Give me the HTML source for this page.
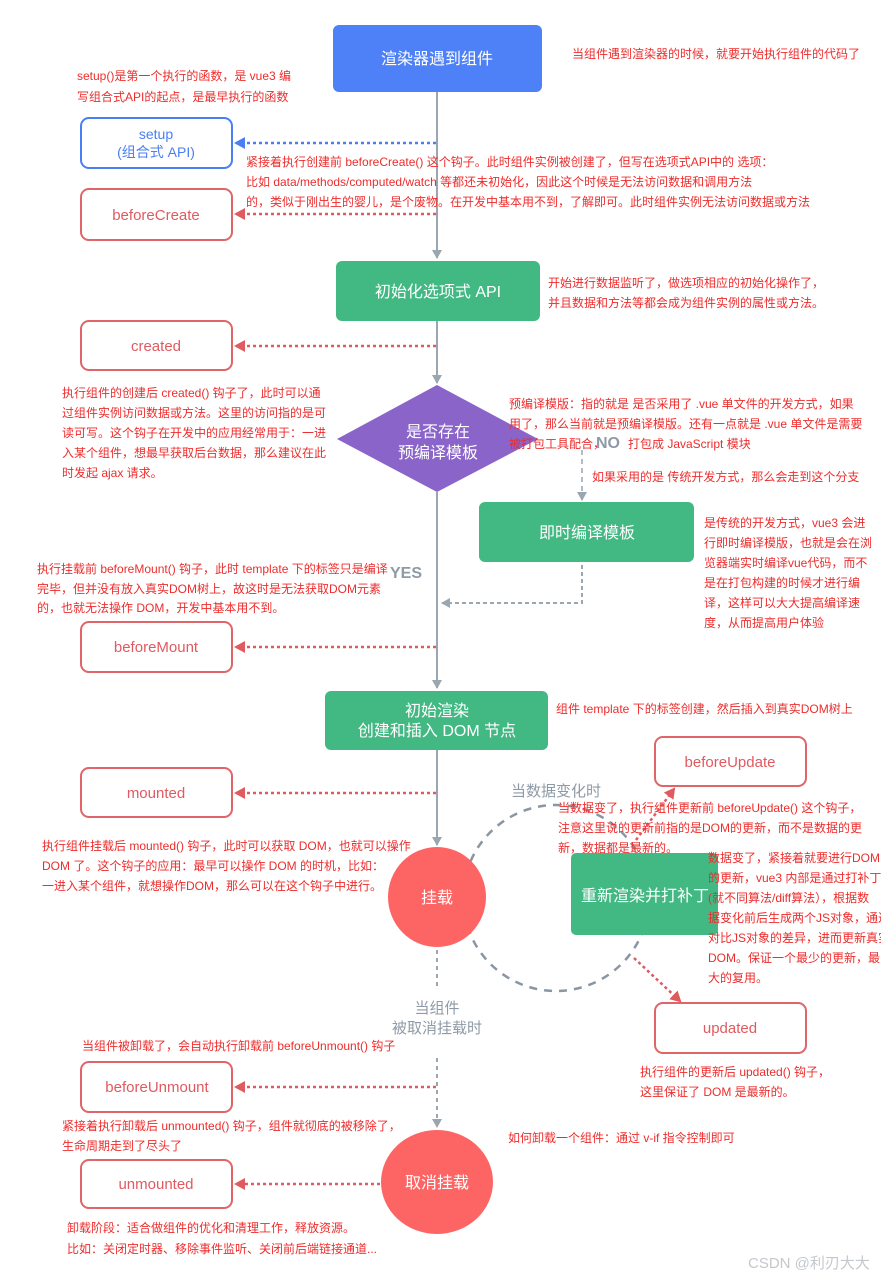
<!DOCTYPE html>
<html><head><meta charset="utf-8"><style>
body{margin:0;background:#fff;}
svg{display:block;font-family:"Liberation Sans","Noto Sans CJK SC",sans-serif;}
.r{fill:#ee2c2c;font-size:12px;}
.bl{fill:#fff;stroke:#e06468;stroke-width:2;}
.bt{fill:#e05a60;font-size:15px;text-anchor:middle;}
.w{fill:#fff;text-anchor:middle;font-size:16px;}
.g{fill:#8e9aa6;}
</style></head><body>
<svg width="881" height="1280" viewBox="0 0 881 1280">
<defs>
<marker id="ag" markerWidth="10" markerHeight="10" refX="8" refY="5" orient="auto" markerUnits="userSpaceOnUse"><path d="M0,0 L9,5 L0,10 Z" fill="#9aa6b0"/></marker>
<marker id="ar" markerWidth="12" markerHeight="12" refX="9" refY="6" orient="auto" markerUnits="userSpaceOnUse"><path d="M0,0 L11,6 L0,12 Z" fill="#e05a60"/></marker>
<marker id="ab" markerWidth="12" markerHeight="12" refX="9" refY="6" orient="auto" markerUnits="userSpaceOnUse"><path d="M0,0 L11,6 L0,12 Z" fill="#4a7ef5"/></marker>
</defs>
<!-- gray arc -->
<circle cx="556" cy="898" r="93" fill="none" stroke="#8a96a2" stroke-width="2.5" stroke-dasharray="8,7"/>
<!-- main line -->
<line x1="437" y1="92" x2="437" y2="258" stroke="#9aa6b0" stroke-width="2" marker-end="url(#ag)"/>
<line x1="437" y1="321" x2="437" y2="383" stroke="#9aa6b0" stroke-width="2" marker-end="url(#ag)"/>
<line x1="437" y1="492" x2="437" y2="688" stroke="#9aa6b0" stroke-width="2" marker-end="url(#ag)"/>
<line x1="437" y1="750" x2="437" y2="845" stroke="#9aa6b0" stroke-width="2" marker-end="url(#ag)"/>
<line x1="437" y1="950" x2="437" y2="990" stroke="#9aa6b0" stroke-width="2" stroke-dasharray="4,4"/>
<line x1="437" y1="1058" x2="437" y2="1127" stroke="#9aa6b0" stroke-width="2" stroke-dasharray="4,4" marker-end="url(#ag)"/>
<!-- NO branch -->
<line x1="582" y1="450" x2="582" y2="500" stroke="#9aa6b0" stroke-width="1.5" stroke-dasharray="5,4" marker-end="url(#ag)"/>
<polyline points="582,565 582,603 442,603" fill="none" stroke="#9aa6b0" stroke-width="2" stroke-dasharray="4,3" marker-end="url(#ag)"/>
<!-- dashed hook arrows -->
<line x1="436" y1="143" x2="236" y2="143" stroke="#4a7ef5" stroke-width="2.5" stroke-dasharray="3,3" marker-end="url(#ab)"/>
<g stroke="#e05a60" stroke-width="2.5" stroke-dasharray="3,3">
<line x1="436" y1="214" x2="236" y2="214" marker-end="url(#ar)"/>
<line x1="436" y1="346" x2="236" y2="346" marker-end="url(#ar)"/>
<line x1="436" y1="647" x2="236" y2="647" marker-end="url(#ar)"/>
<line x1="436" y1="793" x2="236" y2="793" marker-end="url(#ar)"/>
<line x1="436" y1="1087" x2="236" y2="1087" marker-end="url(#ar)"/>
<line x1="380" y1="1184" x2="236" y2="1184" marker-end="url(#ar)"/>
<line x1="636" y1="840" x2="674" y2="789" marker-end="url(#ar)"/>
<line x1="634" y1="958" x2="680" y2="1001" marker-end="url(#ar)"/>
</g>
<!-- shapes -->
<rect x="333" y="25" width="209" height="67" rx="6" fill="#4e80f7"/>
<text class="w" x="437" y="64">渲染器遇到组件</text>
<rect x="81" y="118" width="151" height="50" rx="8" fill="#fff" stroke="#4a7ef5" stroke-width="2"/>
<text x="156" y="139" fill="#4a7ef5" font-size="14" text-anchor="middle">setup</text>
<text x="156" y="157" fill="#4a7ef5" font-size="14" text-anchor="middle">(组合式 API)</text>
<rect class="bl" x="81" y="189" width="151" height="51" rx="8"/><text class="bt" x="156" y="220">beforeCreate</text>
<rect x="336" y="261" width="204" height="60" rx="6" fill="#42b883"/>
<text class="w" x="438" y="297">初始化选项式 API</text>
<rect class="bl" x="81" y="321" width="151" height="49" rx="8"/><text class="bt" x="156" y="351">created</text>
<polygon points="437,385 538,439 437,492 337,439" fill="#8a64c8"/>
<text class="w" x="438" y="437">是否存在</text><text class="w" x="438" y="458">预编译模板</text>
<rect x="479" y="502" width="215" height="60" rx="6" fill="#42b883"/>
<text class="w" x="587" y="538">即时编译模板</text>
<rect class="bl" x="81" y="622" width="151" height="50" rx="8"/><text class="bt" x="156" y="652">beforeMount</text>
<rect x="325" y="691" width="223" height="59" rx="6" fill="#42b883"/>
<text class="w" x="437" y="716" font-size="15">初始渲染</text><text class="w" x="437" y="736" font-size="15">创建和插入 DOM 节点</text>
<rect class="bl" x="655" y="737" width="151" height="49" rx="8"/><text class="bt" x="730" y="767">beforeUpdate</text>
<rect class="bl" x="81" y="768" width="151" height="49" rx="8"/><text class="bt" x="156" y="798">mounted</text>
<ellipse cx="437" cy="897" rx="49" ry="50" fill="#fd6565"/>
<text class="w" x="437" y="903">挂载</text>
<rect x="571" y="853" width="147" height="82" rx="5" fill="#42b883"/>
<text class="w" x="645" y="901" font-size="17">重新渲染并打补丁</text>
<rect class="bl" x="655" y="1003" width="151" height="50" rx="8"/><text class="bt" x="730" y="1033">updated</text>
<rect class="bl" x="81" y="1062" width="151" height="50" rx="8"/><text class="bt" x="157" y="1092">beforeUnmount</text>
<ellipse cx="437" cy="1182" rx="56" ry="52" fill="#fd6565"/>
<text class="w" x="437" y="1188">取消挂载</text>
<rect class="bl" x="81" y="1160" width="151" height="48" rx="8"/><text class="bt" x="156" y="1189">unmounted</text>
<!-- gray labels -->
<text x="596" y="448" fill="#8e9aa6" font-size="16" font-weight="bold">NO</text>
<text x="390" y="578" fill="#8e9aa6" font-size="16" font-weight="bold">YES</text>
<text class="g" x="511" y="796" font-size="15">当数据变化时</text>
<text class="g" x="437" y="1013" font-size="15" text-anchor="middle">当组件</text>
<text class="g" x="437" y="1033" font-size="15" text-anchor="middle">被取消挂载时</text>
<text x="748" y="1268" fill="#c4c8cc" font-size="15">CSDN @利刃大大</text>
<!-- red annotations -->
<g class="r">
<text x="572" y="58">当组件遇到渲染器的时候，就要开始执行组件的代码了</text>
<text x="77" y="80">setup()是第一个执行的函数，是 vue3 编</text>
<text x="77" y="101">写组合式API的起点，是最早执行的函数</text>
<text x="246" y="166">紧接着执行创建前 beforeCreate() 这个钩子。此时组件实例被创建了，但写在选项式API中的 选项：</text>
<text x="246" y="186">比如 data/methods/computed/watch 等都还未初始化，因此这个时候是无法访问数据和调用方法</text>
<text x="246" y="206">的，类似于刚出生的婴儿，是个废物。在开发中基本用不到，了解即可。此时组件实例无法访问数据或方法</text>
<text x="548" y="287">开始进行数据监听了，做选项相应的初始化操作了，</text>
<text x="548" y="307">并且数据和方法等都会成为组件实例的属性或方法。</text>
<text x="62" y="397">执行组件的创建后 created() 钩子了，此时可以通</text>
<text x="62" y="417">过组件实例访问数据或方法。这里的访问指的是可</text>
<text x="62" y="437">读可写。这个钩子在开发中的应用经常用于：一进</text>
<text x="62" y="457">入某个组件，想最早获取后台数据，那么建议在此</text>
<text x="62" y="477">时发起 ajax 请求。</text>
<text x="509" y="408">预编译模版：指的就是 是否采用了 .vue 单文件的开发方式，如果</text>
<text x="509" y="428">用了，那么当前就是预编译模版。还有一点就是 .vue 单文件是需要</text>
<text x="509" y="448">被打包工具配合，</text>
<text x="628" y="448">打包成 JavaScript 模块</text>
<text x="592" y="481">如果采用的是 传统开发方式，那么会走到这个分支</text>
<text x="704" y="527">是传统的开发方式，vue3 会进</text>
<text x="704" y="547">行即时编译模版，也就是会在浏</text>
<text x="704" y="567">览器端实时编译vue代码，而不</text>
<text x="704" y="587">是在打包构建的时候才进行编</text>
<text x="704" y="607">译，这样可以大大提高编译速</text>
<text x="704" y="627">度，从而提高用户体验</text>
<text x="37" y="573">执行挂载前 beforeMount() 钩子，此时 template 下的标签只是编译</text>
<text x="37" y="593">完毕，但并没有放入真实DOM树上，故这时是无法获取DOM元素</text>
<text x="37" y="612">的，也就无法操作 DOM，开发中基本用不到。</text>
<text x="556" y="713">组件 template 下的标签创建，然后插入到真实DOM树上</text>
<text x="558" y="812">当数据变了，执行组件更新前 beforeUpdate() 这个钩子，</text>
<text x="558" y="832">注意这里说的更新前指的是DOM的更新，而不是数据的更</text>
<text x="558" y="852">新，数据都是最新的。</text>
<text x="42" y="850">执行组件挂载后 mounted() 钩子，此时可以获取 DOM，也就可以操作</text>
<text x="42" y="870">DOM 了。这个钩子的应用：最早可以操作 DOM 的时机，比如：</text>
<text x="42" y="890">一进入某个组件，就想操作DOM，那么可以在这个钩子中进行。</text>
<text x="708" y="862">数据变了，紧接着就要进行DOM</text>
<text x="708" y="882">的更新，vue3 内部是通过打补丁</text>
<text x="708" y="902">(就不同算法/diff算法），根据数</text>
<text x="708" y="922">据变化前后生成两个JS对象，通过</text>
<text x="708" y="942">对比JS对象的差异，进而更新真实</text>
<text x="708" y="962">DOM。保证一个最少的更新，最</text>
<text x="708" y="982">大的复用。</text>
<text x="640" y="1076">执行组件的更新后 updated() 钩子，</text>
<text x="640" y="1096">这里保证了 DOM 是最新的。</text>
<text x="82" y="1050">当组件被卸载了，会自动执行卸载前 beforeUnmount() 钩子</text>
<text x="62" y="1130">紧接着执行卸载后 unmounted() 钩子，组件就彻底的被移除了，</text>
<text x="62" y="1150">生命周期走到了尽头了</text>
<text x="508" y="1142">如何卸载一个组件：通过 v-if 指令控制即可</text>
<text x="67" y="1232">卸载阶段：适合做组件的优化和清理工作，释放资源。</text>
<text x="67" y="1253">比如：关闭定时器、移除事件监听、关闭前后端链接通道...</text>
</g>
</svg>
</body></html>
